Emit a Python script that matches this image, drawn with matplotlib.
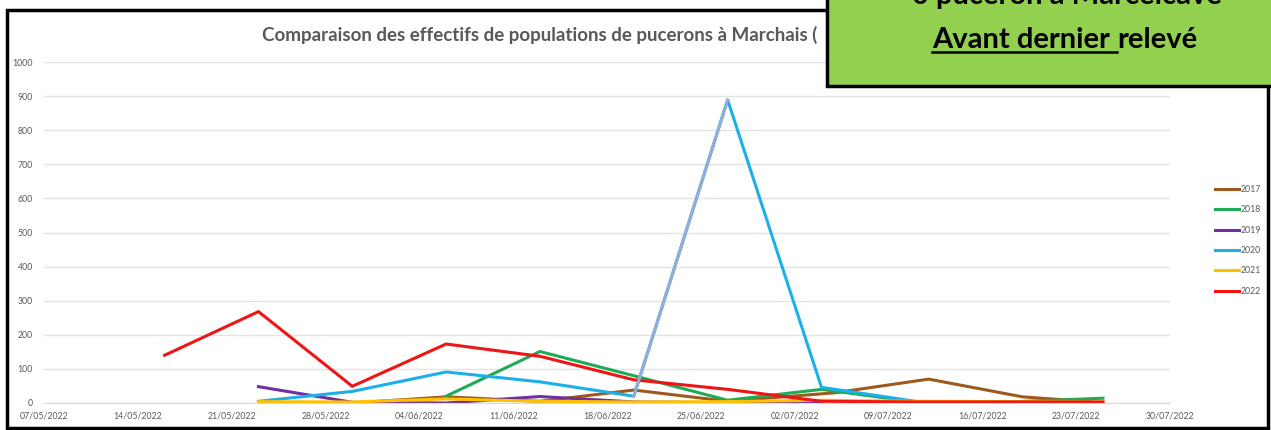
import matplotlib.pyplot as plt
import matplotlib.dates as mdates
from matplotlib.patches import Rectangle
from matplotlib.lines import Line2D
import numpy as np

plt.rcParams['font.family'] = ['Lato', 'DejaVu Sans']

# Data (dates mapped onto the 2022 calendar)
years = ['2017', '2018', '2019', '2020', '2021', '2022']
colors = ['#9E5A1E', '#1FAA55', '#7030A0', '#1CB0E8', '#FFC000', '#F01414']

dates_2017 = ['2022-05-30', '2022-06-06', '2022-06-13', '2022-06-20', '2022-06-27',
              '2022-07-05', '2022-07-12', '2022-07-19', '2022-07-24']
vals_2017 = [0, 18, 5, 38, 5, 30, 70, 18, 4]

dates_2018 = ['2022-06-06', '2022-06-13', '2022-06-20', '2022-06-27', '2022-07-04',
              '2022-07-11', '2022-07-18', '2022-07-25']
vals_2018 = [20, 151, 80, 8, 40, 3, 3, 14]

dates_2019 = ['2022-05-23', '2022-05-30', '2022-06-06', '2022-06-13', '2022-06-20',
              '2022-06-27', '2022-07-04']
vals_2019 = [48, 2, 0, 19, 3, 1, 0]

dates_2020 = ['2022-05-23', '2022-05-30', '2022-06-06', '2022-06-13', '2022-06-20',
              '2022-06-27', '2022-07-04', '2022-07-11']
vals_2020 = [5, 34, 91, 62, 20, 889, 46, 5]

dates_2021 = ['2022-05-23', '2022-05-30', '2022-06-06', '2022-06-13', '2022-06-20',
              '2022-06-27', '2022-07-04', '2022-07-11', '2022-07-18', '2022-07-25']
vals_2021 = [4, 3, 12, 5, 3, 4, 8, 5, 4, 3]

dates_2022 = ['2022-05-16', '2022-05-23', '2022-05-30', '2022-06-06', '2022-06-13',
              '2022-06-20', '2022-06-27', '2022-07-04', '2022-07-11', '2022-07-18',
              '2022-07-25']
vals_2022 = [140, 268, 49, 173, 137, 68, 40, 5, 3, 3, 3]

all_dates = [dates_2017, dates_2018, dates_2019, dates_2020, dates_2021, dates_2022]
all_vals = [vals_2017, vals_2018, vals_2019, vals_2020, vals_2021, vals_2022]

grey = '#595959'

fig = plt.figure(figsize=(12.71, 4.30), dpi=100)
ax = fig.add_axes([44/1271, 27/430, 1126/1271, 341/430])

for yr, c, d, v in zip(years, colors, all_dates, all_vals):
    ax.plot(np.array(d, dtype='datetime64[D]'), v, color=c, lw=2.2,
            solid_joinstyle='miter', label=yr)

# the 2020 rise to the peak is drawn in a paler blue
d20 = np.array(dates_2020, dtype='datetime64[D]')
ax.plot(d20[4:6], vals_2020[4:6], color='#93ACD8', lw=2.2, zorder=2.5)

ax.set_ylim(0, 1000)
ax.set_yticks(range(0, 1001, 100))
ax.set_xlim(np.datetime64('2022-05-07'), np.datetime64('2022-07-30'))
ticks = np.arange(np.datetime64('2022-05-07'), np.datetime64('2022-07-31'), 7)
ax.set_xticks(ticks)
ax.xaxis.set_major_formatter(mdates.DateFormatter('%d/%m/%Y'))
ax.grid(axis='y', color='#E3E3E3', lw=1)
ax.set_axisbelow(True)
for s in ['top', 'right', 'left']:
    ax.spines[s].set_visible(False)
ax.spines['bottom'].set_color('#D9D9D9')
ax.tick_params(length=0, labelsize=6.3, labelcolor=grey)
ax.tick_params(axis='x', pad=6)
ax.tick_params(axis='y', pad=8)

handles = [Line2D([0], [0], color=c, lw=2.2) for c in colors]
fig.legend(handles, years, loc='upper left', bbox_to_anchor=(1207/1271, 1 - 177/430),
           frameon=False, fontsize=6.3, handlelength=2.7, handletextpad=0.2,
           labelspacing=1.3, labelcolor=grey)

# chart title (partly hidden by the green box)
fig.text(262/1271, 1 - 35/430, 'Comparaison des effectifs de populations de pucerons à Marchais (',
         fontsize=13.5, fontweight='bold', color=grey, va='center', ha='left')

# outer frame
fig.patches.append(Rectangle((7/1271, 2/430), 1261/1271, 418/430, transform=fig.transFigure,
                             fill=False, edgecolor='black', lw=2.5))

# green label box
fig.patches.append(Rectangle((827/1271, 1 - 86/430), 460/1271, 100/430, transform=fig.transFigure,
                             facecolor='#92D050', edgecolor='black', lw=2.5, zorder=5))
fig.text(1067/1271, 1 - 4/430, '0 puceron à Marcelcave', fontsize=21, fontweight='bold',
         color='black', ha='center', va='baseline', zorder=6)

t1 = fig.text(932/1271, 1 - 48/430, 'Avant dernier ', fontsize=21, fontweight='bold',
              color='black', ha='left', va='baseline', zorder=6)
fig.canvas.draw()
r = fig.canvas.get_renderer()
bb = t1.get_window_extent(r)
fig.text(bb.x1/1271, 1 - 48/430, 'relevé', fontsize=21, fontweight='bold',
         color='black', ha='left', va='baseline', zorder=6)
fig.add_artist(Line2D([bb.x0/1271, bb.x1/1271], [1 - 52/430, 1 - 52/430],
                      transform=fig.transFigure, color='black', lw=1.8, zorder=6))

fig.savefig('out.png', dpi=100)
